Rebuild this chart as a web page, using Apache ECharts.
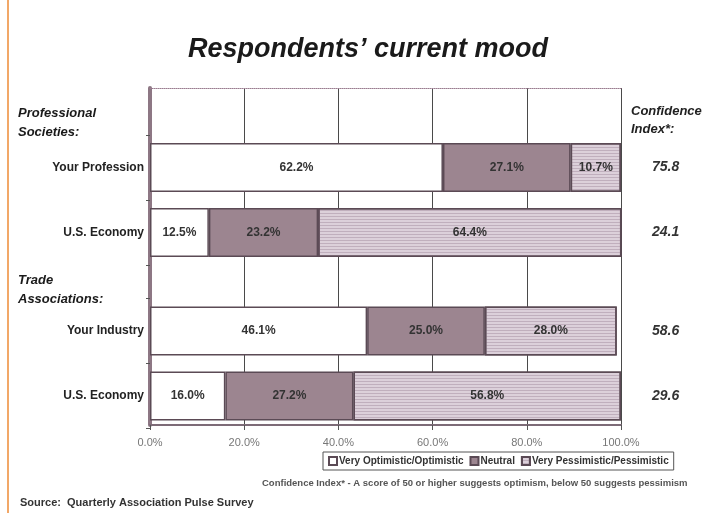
<!DOCTYPE html>
<html>
<head>
<meta charset="utf-8">
<script src="https://cdn.jsdelivr.net/npm/echarts@6/dist/echarts.min.js"></script>
<style>
  html, body { margin: 0; padding: 0; background: #fff; }
  #chart { width: 717px; height: 513px; }
</style>
</head>
<body>
<div id="chart"></div>
<script>
// data
const seriesNames = ['Very Optimistic/Optimistic', 'Neutral', 'Very Pessimistic/Pessimistic'];

const catsProf = ['Your Profession', 'U.S. Economy'];
const optProf = [62.2, 12.5];
const neuProf = [27.1, 23.2];
const pesProf = [10.7, 64.4];
const indexProf = ['75.8', '24.1'];

const catsTrade = ['Your Industry', 'U.S. Economy'];
const optTrade = [46.1, 16.0];
const neuTrade = [25.0, 27.2];
const pesTrade = [28.0, 56.8];
const indexTrade = ['58.6', '29.6'];

const FONT = '"Liberation Sans", Arial, sans-serif';
const colors = ['#ffffff', '#9c8590', '#dcd0da'];

let chart = echarts.init(document.getElementById('chart'));

function barSeries(idx, data, axisIdx, stack) {
    let s = {
        name: seriesNames[idx],
        type: 'bar',
        stack: stack,
        xAxisIndex: axisIdx,
        yAxisIndex: axisIdx === 2 ? 1 : 3,
        barWidth: 49,
        data: data,
        itemStyle: {
            color: colors[idx],
            borderColor: '#5b4a55',
            borderWidth: 1.5
        },
        label: {
            show: true,
            position: 'inside',
            color: '#333',
            fontFamily: FONT,
            fontWeight: 'bold',
            fontSize: 12,
            formatter: p => p.value.toFixed(1) + '%'
        }
    };
    if (idx === 2) {
        // light bars have a horizontal line texture
        s.itemStyle.decal = {
            symbol: 'rect',
            dashArrayX: [1, 0],
            dashArrayY: [1, 2],
            color: 'rgba(140,115,135,0.35)',
            rotation: 0
        };
    }
    return s;
}

function catAxis(grid, data, right) {
    return {
        type: 'category',
        gridIndex: grid,
        data: data,
        inverse: true,
        position: right ? 'right' : 'left',
        axisLine: {show: false},
        axisTick: {show: !right, length: 4, lineStyle: {color: '#555'}},
        axisLabel: right ? {
            margin: 31,
            color: '#333',
            fontFamily: FONT,
            fontWeight: 'bold',
            fontStyle: 'italic',
            fontSize: 14
        } : {
            margin: 6,
            color: '#222',
            fontFamily: FONT,
            fontWeight: 'bold',
            fontSize: 12
        }
    };
}

let option = {
    backgroundColor: '#fff',
    animation: false,
    title: {
        text: 'Respondents\u2019 current mood',
        left: 183,
        top: 31,
        textStyle: {
            fontFamily: FONT,
            fontSize: 27,
            fontWeight: 'bold',
            fontStyle: 'italic',
            color: '#1a1a1a'
        }
    },
    legend: {
        data: seriesNames,
        left: 323,
        top: 452,
        orient: 'horizontal',
        icon: 'rect',
        itemWidth: 8,
        itemHeight: 8,
        itemGap: 6,
        padding: [4, 5],
        borderColor: '#555',
        borderWidth: 1,
        textStyle: {fontFamily: FONT, fontSize: 10, fontWeight: 'bold', color: '#333', padding: [0, 0, 0, -3]}
    },
    grid: [
        {left: 150, right: 96, top: 88, bottom: 88},
        {left: 150, right: 96, top: 135, height: 130},
        {left: 150, right: 96, top: 298.5, height: 130}
    ],
    xAxis: [
        {
            type: 'value', gridIndex: 0, min: 0, max: 100, interval: 20,
            axisLine: {show: true, lineStyle: {color: '#7d6b77', width: 2}},
            axisTick: {show: true, length: 5, lineStyle: {color: '#555'}},
            axisLabel: {
                margin: 12, color: '#777', fontFamily: FONT, fontSize: 11,
                formatter: v => v.toFixed(1) + '%'
            },
            splitLine: {show: true, lineStyle: {color: '#4a4a4a', width: 1}}
        },
        {
            type: 'value', gridIndex: 0, min: 0, max: 100, position: 'top',
            axisLine: {show: true, lineStyle: {color: '#9a7d90', type: 'dotted', width: 1}},
            axisTick: {show: false}, axisLabel: {show: false}, splitLine: {show: false}
        },
        {type: 'value', gridIndex: 1, min: 0, max: 100, show: false},
        {type: 'value', gridIndex: 2, min: 0, max: 100, show: false}
    ],
    yAxis: [
        {
            type: 'value', gridIndex: 0, min: 0, max: 1,
            axisLine: {show: true, lineStyle: {color: '#8d7784', width: 4}},
            axisTick: {show: false}, axisLabel: {show: false}, splitLine: {show: false}
        },
        catAxis(1, catsProf, false),
        catAxis(1, indexProf, true),
        catAxis(2, catsTrade, false),
        catAxis(2, indexTrade, true)
    ],
    graphic: [
        {type: 'line', shape: {x1: 8, y1: 0, x2: 8, y2: 513}, style: {stroke: '#f2a868', lineWidth: 2}},
        {type: 'text', left: 18, top: 104, style: {text: 'Professional\nSocieties:', font: 'italic bold 13px ' + FONT, fill: '#1a1a1a', lineHeight: 19}},
        {type: 'text', left: 18, top: 271, style: {text: 'Trade\nAssociations:', font: 'italic bold 13px ' + FONT, fill: '#1a1a1a', lineHeight: 19}},
        {type: 'text', left: 631, top: 102, style: {text: 'Confidence\nIndex*:', font: 'italic bold 13px ' + FONT, fill: '#222', lineHeight: 18, align: 'center', width: 78}},
        {type: 'text', left: 262, top: 478, style: {text: 'Confidence Index* - A score of 50 or higher suggests optimism, below 50 suggests pessimism', font: 'bold 9.5px ' + FONT, fill: '#555'}},
        {type: 'text', left: 20, top: 497, style: {text: 'Source:  Quarterly Association Pulse Survey', font: 'bold 11px ' + FONT, fill: '#333'}}
    ],
    series: [
        barSeries(0, optProf, 2, 'prof'),
        barSeries(1, neuProf, 2, 'prof'),
        barSeries(2, pesProf, 2, 'prof'),
        barSeries(0, optTrade, 3, 'trade'),
        barSeries(1, neuTrade, 3, 'trade'),
        barSeries(2, pesTrade, 3, 'trade')
    ]
};

chart.setOption(option);
</script>
</body>
</html>
